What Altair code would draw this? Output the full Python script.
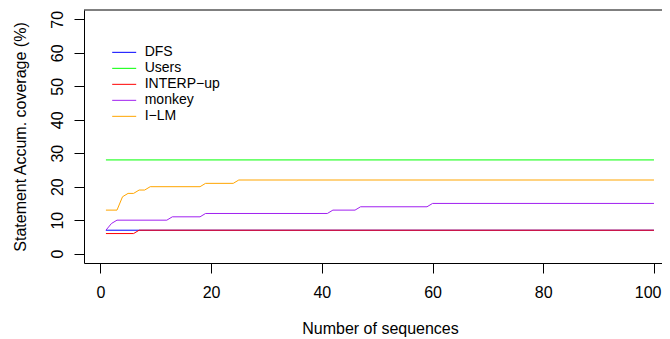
import altair as alt
import pandas as pd

# ---- data ----
series_names = ["DFS", "Users", "INTERP−up", "monkey", "I−LM"]
series_colors = ["#0000FF", "#00FF00", "#FF0000", "#A020F0", "#FFA500"]

dfs_x = [1, 100]
dfs_y = [7, 7]
users_x = [1, 100]
users_y = [28, 28]
interp_x = [1, 6, 7, 100]
interp_y = [6, 6, 7, 7]
monkey_x = [1, 2, 3, 12, 13, 18, 19, 41, 42, 46, 47, 59, 60, 100]
monkey_y = [7, 9, 10, 10, 11, 11, 12, 12, 13, 13, 14, 14, 15, 15]
ilm_x = [1, 3, 4, 5, 6, 7, 8, 9, 18, 19, 24, 25, 100]
ilm_y = [13, 13, 17, 18, 18, 19, 19, 20, 20, 21, 21, 22, 22]

x_ticks = [0, 20, 40, 60, 80, 100]
y_ticks = [0, 10, 20, 30, 40, 50, 60, 70]

x_title = "Number of sequences"
y_title = "Statement Accum. coverage (%)"

# ---- table ----
rows = []
for name, xs, ys in zip(series_names,
                        [dfs_x, users_x, interp_x, monkey_x, ilm_x],
                        [dfs_y, users_y, interp_y, monkey_y, ilm_y]):
    for xv, yv in zip(xs, ys):
        rows.append({"series": name, "x": xv, "y": yv})
df = pd.DataFrame(rows)

FONT = "Liberation Sans"
W, H = 578, 253

x_axis = alt.Axis(
    values=x_ticks, format="d", grid=False,
    domainColor="black", domainWidth=1, tickColor="black", tickWidth=1, tickSize=10,
    labelFont=FONT, labelFontSize=16, labelColor="black",
    labelBaseline="alphabetic", labelPadding=24,
    labelFlush=10, labelFlushOffset=7, labelOverlap=False,
    title=x_title, titleFont=FONT, titleFontSize=16, titleFontWeight="normal",
    titleColor="black", titleX=296, titleY=70, titleAlign="center",
    titleBaseline="alphabetic",
)
y_axis = alt.Axis(
    values=y_ticks, format="d", grid=False,
    domainColor="black", domainWidth=1, tickColor="black", tickWidth=1, tickSize=10,
    labelFont=FONT, labelFontSize=16, labelColor="black",
    labelAngle=270, labelAlign="center", labelBaseline="alphabetic",
    labelPadding=12, labelFlush=False, labelOverlap=False,
    title=y_title, titleFont=FONT, titleFontSize=16, titleFontWeight="normal",
    titleColor="black", titleAngle=270, titleX=-59, titleY=126.5,
    titleAlign="center", titleBaseline="alphabetic",
)
legend = alt.Legend(
    orient="none", legendX=27.7, legendY=34.5, title=None, padding=0,
    symbolType="stroke", symbolSize=576, symbolStrokeWidth=1,
    clipHeight=15.67, rowPadding=0,
    labelFont=FONT, labelFontSize=14, labelColor="black", labelOffset=8,
)

lines = alt.Chart(df).mark_line(strokeWidth=1, clip=True).encode(
    x=alt.X("x:Q", scale=alt.Scale(domain=[-2.96, 101.45], nice=False, zero=False), axis=x_axis),
    y=alt.Y("y:Q", scale=alt.Scale(domain=[-2.8, 72.8], nice=False, zero=False), axis=y_axis),
    color=alt.Color("series:N", sort=series_names,
                    scale=alt.Scale(domain=series_names, range=series_colors),
                    legend=legend),
)

top_rule = alt.Chart(pd.DataFrame({"k": [0]})).mark_rule(color="black", strokeWidth=1).encode(
    x=alt.value(0), x2=alt.value(W), y=alt.value(0)
)

chart = alt.layer(lines, top_rule).properties(
    width=W, height=H,
    autosize=alt.AutoSizeParams(type="none"),
    padding={"left": 76, "top": 2, "right": 0, "bottom": 74},
    background="white",
).configure_view(stroke=None)

chart.save("out.html", embed_options={"renderer": "svg", "actions": False})
